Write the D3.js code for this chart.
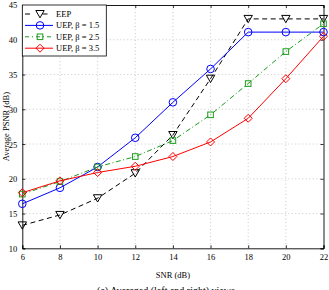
<!DOCTYPE html>
<html><head><meta charset="utf-8">
<script src="https://cdn.jsdelivr.net/npm/d3@7"></script>
<style>body{margin:0;background:#fff}svg{display:block}text{font-family:"Liberation Serif","Times New Roman",serif}</style>
</head><body><svg id="c" width="329" height="290"></svg>
<script>
const snr = [6, 8, 10, 12, 14, 16, 18, 20, 22];
const eep = [13.3, 14.8, 17.2, 20.8, 26.3, 34.4, 43.0, 43.0, 43.0];
const uep15 = [16.4, 18.7, 21.7, 25.9, 31.0, 35.8, 41.1, 41.1, 41.1];
const uep25 = [17.8, 19.6, 21.7, 23.2, 25.5, 29.2, 33.7, 38.3, 42.3];
const uep35 = [18.0, 19.7, 20.9, 21.8, 23.2, 25.3, 28.7, 34.4, 40.5];
const xTicks = [6, 8, 10, 12, 14, 16, 18, 20, 22];
const yTicks = [10, 15, 20, 25, 30, 35, 40, 45];
const seriesNames = ["EEP", "UEP, \u03B2 = 1.5", "UEP, \u03B2 = 2.5", "UEP, \u03B2 = 3.5"];

const svg = d3.select("#c");
const L = 22.3, R = 323.5, T = 5, B = 248.3;
const x = d3.scaleLinear().domain([6, 22]).range([L, R]);
const y = d3.scaleLinear().domain([10, 45]).range([B, T]);

const series = [
  {name: seriesNames[0], v: eep, color: "#000", dash: "5,3.5", marker: "tri"},
  {name: seriesNames[1], v: uep15, color: "#0000ff", dash: null, marker: "circle"},
  {name: seriesNames[2], v: uep25, color: "#1a9a1a", dash: "5,2.5,1,2.5", marker: "square"},
  {name: seriesNames[3], v: uep35, color: "#ff0000", dash: null, marker: "diamond"}
];

// grid
const g = svg.append("g");
xTicks.slice(1, -1).forEach(t => g.append("line").attr("x1", x(t)).attr("x2", x(t)).attr("y1", T).attr("y2", B)
  .attr("stroke", "#bbb").attr("stroke-width", 0.8).attr("stroke-dasharray", "1,2.5"));
yTicks.slice(1, -1).forEach(t => g.append("line").attr("x1", L).attr("x2", R).attr("y1", y(t)).attr("y2", y(t))
  .attr("stroke", "#bbb").attr("stroke-width", 0.8).attr("stroke-dasharray", "1,2.5"));

// axes with inward ticks
const ax = svg.append("g").attr("transform", `translate(0,${B})`)
  .call(d3.axisBottom(x).tickValues(xTicks).tickSize(-3).tickPadding(6));
const axT = svg.append("g").attr("transform", `translate(0,${T})`)
  .call(d3.axisTop(x).tickValues(xTicks).tickSize(-3).tickFormat(""));
const ay = svg.append("g").attr("transform", `translate(${L},0)`)
  .call(d3.axisLeft(y).tickValues(yTicks).tickSize(-3).tickPadding(5));
const ayR = svg.append("g").attr("transform", `translate(${R},0)`)
  .call(d3.axisRight(y).tickValues(yTicks).tickSize(-3).tickFormat(""));
[ax, axT, ay, ayR].forEach(a => {
  a.select(".domain").attr("stroke", "#000").attr("stroke-width", 0.9);
  a.selectAll(".tick line").attr("stroke", "#000").attr("stroke-width", 0.8);
  a.selectAll("text").attr("font-size", 8.5).attr("fill", "#000")
    .style("font-family", '"Liberation Serif",serif');
});
ay.selectAll("text").attr("dy", "0.35em");

function marker(sel, type, cx, cy, color) {
  if (type === "circle") sel.append("circle").attr("cx", cx).attr("cy", cy).attr("r", 3.8)
    .attr("fill", "none").attr("stroke", color).attr("stroke-width", 1);
  else if (type === "square") sel.append("rect").attr("x", cx - 2.8).attr("y", cy - 2.8).attr("width", 5.6).attr("height", 5.6)
    .attr("fill", "none").attr("stroke", color).attr("stroke-width", 1);
  else if (type === "diamond") sel.append("path").attr("d", `M${cx},${cy-4}L${cx+4},${cy}L${cx},${cy+4}L${cx-4},${cy}Z`)
    .attr("fill", "none").attr("stroke", color).attr("stroke-width", 1);
  else if (type === "tri") sel.append("path").attr("d", `M${cx-4.2},${cy-3.5}L${cx+4.2},${cy-3.5}L${cx},${cy+3.8}Z`)
    .attr("fill", "none").attr("stroke", color).attr("stroke-width", 1);
}

const line = d3.line().x((d, i) => x(snr[i])).y(d => y(d));
const plot = svg.append("g");
series.forEach(s => {
  plot.append("path").datum(s.v).attr("d", line).attr("fill", "none").attr("stroke", s.color)
    .attr("stroke-width", 1).attr("stroke-dasharray", s.dash);
  s.v.forEach((v, i) => marker(plot, s.marker, x(snr[i]), y(v), s.color));
});

// legend
const lg = svg.append("g");
lg.append("rect").attr("x", L).attr("y", T).attr("width", 84).attr("height", 51)
  .attr("fill", "#fff").attr("stroke", "#000").attr("stroke-width", 0.8);
series.forEach((s, i) => {
  const yy = 14 + i * 11.4;
  lg.append("line").attr("x1", 25).attr("x2", 53).attr("y1", yy).attr("y2", yy).attr("stroke", s.color)
    .attr("stroke-width", 1).attr("stroke-dasharray", s.dash ? (s.marker === "tri" ? "5,12.5" : "4,3,1,3") : null);
  marker(lg, s.marker, 40, yy, s.color);
  lg.append("text").attr("x", 56).attr("y", yy).attr("dy", "0.35em").attr("font-size", 8.5).text(s.name);
});

// labels
svg.append("text").attr("x", (L + R) / 2).attr("y", 278).attr("text-anchor", "middle").attr("font-size", 8.5).text("SNR (dB)");
svg.append("text").attr("transform", `translate(9,${(T + B) / 2}) rotate(-90)`).attr("text-anchor", "middle")
  .attr("font-size", 8.5).text("Average PSNR (dB)");
svg.append("text").attr("x", 166).attr("y", 293.5).attr("text-anchor", "middle").attr("font-size", 10)
  .text("(a)  Averaged (left and right) views");
</script></body></html>
